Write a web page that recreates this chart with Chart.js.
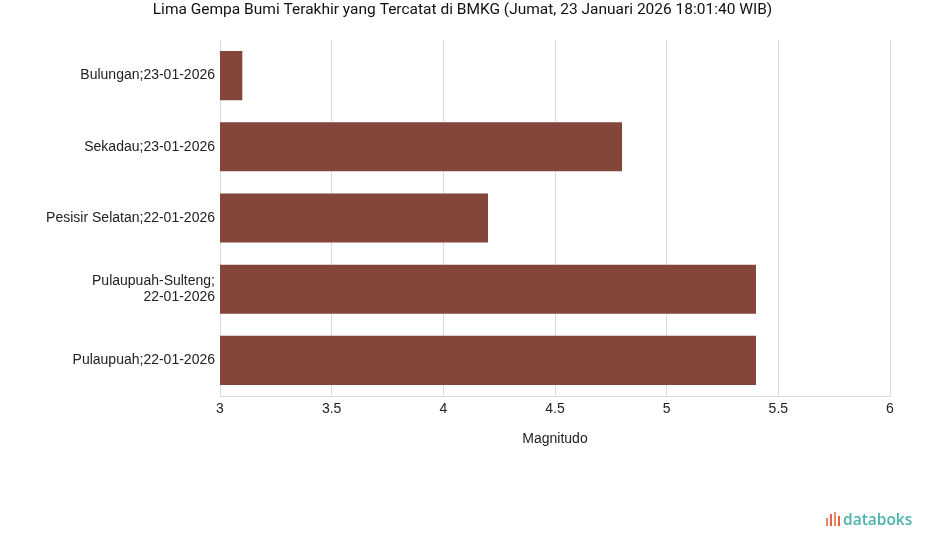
<!DOCTYPE html>
<html>
<head>
<meta charset="utf-8">
<script src="https://cdn.jsdelivr.net/npm/chart.js@4.4.1/dist/chart.umd.min.js"></script>
<style>
  html, body { margin:0; padding:0; background:#fff; }
  #wrap { position:relative; width:925px; height:547px; }
  #logo { position:absolute; left:826px; top:508px; font-family:"Open Sans", sans-serif; font-size:15.5px; font-weight:600; color:#4db3aa; display:flex; align-items:center; }
  #logo .ico { display:flex; align-items:flex-end; height:14px; margin-right:3px; gap:2px; }
  #logo .ico span { display:block; width:2px; }
</style>
</head>
<body>
<div id="wrap">
  <canvas id="chart" width="925" height="547"></canvas>
  <div id="logo">
    <div class="ico">
      <span style="height:8px;background:#f08a5d"></span>
      <span style="height:12px;background:#e8604c"></span>
      <span style="height:14px;background:#f08a5d"></span>
      <span style="height:10px;background:#e8604c"></span>
    </div>databoks
  </div>
</div>
<script>
// Data gempa
const labels = [
  "Bulungan;23-01-2026",
  "Sekadau;23-01-2026",
  "Pesisir Selatan;22-01-2026",
  ["Pulaupuah-Sulteng;", "22-01-2026"],
  "Pulaupuah;22-01-2026"
];
const magnitudo = [3.1, 4.8, 4.2, 5.4, 5.4];

const judul = "Lima Gempa Bumi Terakhir yang Tercatat di BMKG (Jumat, 23 Januari 2026 18:01:40 WIB)";
const xMin = 3, xMax = 6, xStep = 0.5;

const tickFont = { family: "'Liberation Sans', Arial, sans-serif", size: 14 };

new Chart(document.getElementById("chart"), {
  type: "bar",
  data: {
    labels: labels,
    datasets: [{
      label: "Magnitudo",
      data: magnitudo,
      backgroundColor: "#84463b",
      categoryPercentage: 1,
      barPercentage: 0.69
    }]
  },
  options: {
    indexAxis: "y",
    responsive: false,
    animation: false,
    layout: { padding: { left: 0, right: 0, top: 0, bottom: 99 } },
    plugins: {
      legend: { display: false },
      tooltip: { enabled: false },
      title: {
        display: true,
        text: judul,
        color: "#111",
        font: { family: "Roboto, sans-serif", size: 15.5, weight: "normal" },
        padding: { top: 1, bottom: 20.4 }
      }
    },
    scales: {
      x: {
        min: xMin, max: xMax,
        ticks: { stepSize: xStep, color: "#222", font: tickFont, padding: 5,
                 callback: v => String(v) },
        grid: { color: "#dcdcdc", drawTicks: false },
        border: { color: "#dcdcdc" },
        title: { display: true, text: "Magnitudo", color: "#222", font: tickFont, padding: 0 },
        afterFit: s => { s.height = 52; }
      },
      y: {
        ticks: { color: "#222", font: tickFont, padding: 5 },
        grid: { display: false, drawTicks: false },
        border: { color: "#dcdcdc" },
        afterFit: s => { s.width = 220; }
      },
      yr: {
        axis: "y",
        position: "right",
        display: true,
        ticks: { display: false },
        grid: { display: false, drawTicks: false },
        border: { display: false },
        afterFit: s => { s.width = 35; }
      }
    }
  }
});
</script>
</body>
</html>
